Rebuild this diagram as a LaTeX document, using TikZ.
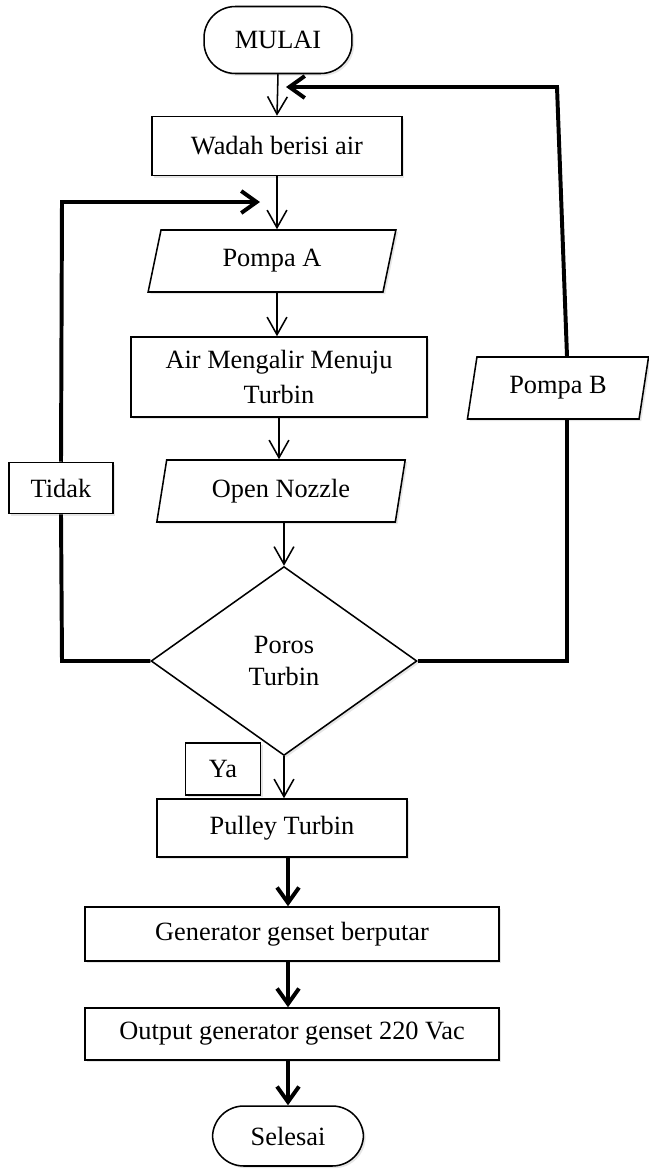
\documentclass[tikz,border=0pt]{standalone}
\usepackage{fontspec}
\setmainfont{Liberation Serif}
\usetikzlibrary{shapes.geometric,arrows.meta,shadows}

\begin{document}
\begin{tikzpicture}[x=0.016cm,y=-0.016cm,
    font=\fontsize{12}{14.5}\selectfont,
    kotak/.style={draw,line width=0.7pt,fill=white,inner sep=0pt,align=center,
        drop shadow={opacity=0.2,shadow xshift=0.35mm,shadow yshift=-0.35mm}},
    terminal/.style={kotak,rounded corners=0.5cm},
    jajar/.style={kotak,trapezium,trapezium left angle=76,trapezium right angle=104,trapezium stretches=true},
    keputusan/.style={kotak,diamond},
    panah/.style={-{Straight Barb[length=8pt,width=9pt]},line width=0.7pt},
    panahtebal/.style={-{Straight Barb[length=7pt,width=10pt]},line width=1.8pt},
    garis/.style={line width=1.8pt}]
    \useasboundingbox (0,0) rectangle (648,1169);
    \node[terminal,minimum width=2.368cm,minimum height=1.072cm] (mulai) at (278,40) {MULAI};
    \node[kotak,minimum width=4cm,minimum height=0.944cm] (wadah) at (277,146) {Wadah berisi air};
    \node[jajar,minimum width=3.968cm,minimum height=0.992cm] (pompaA) at (272,261) {Pompa A};
    \node[kotak,minimum width=4.736cm,minimum height=1.28cm,font=\fontsize{12}{16}\selectfont] (air) at (279,377) {Air Mengalir Menuju\\Turbin};
    \node[jajar,minimum width=3.984cm,minimum height=0.992cm] (nozzle) at (281,491) {Open Nozzle};
    \node[keputusan,minimum width=4.256cm,minimum height=3.024cm] (poros) at (284,661) {Poros\\Turbin};
    \node[kotak,minimum width=1.664cm,minimum height=0.816cm] (tidak) at (61,488) {Tidak};
    \node[jajar,minimum width=2.912cm,minimum height=0.992cm] (pompaB) at (558,388) {Pompa B};
    \node[kotak,minimum width=1.2cm,minimum height=0.832cm] (ya) at (223,769) {Ya};
    \node[kotak,minimum width=4cm,minimum height=0.928cm] (pulley) at (282,828) {Pulley Turbin};
    \node[kotak,minimum width=6.624cm,minimum height=0.864cm] (genset) at (292,934) {Generator genset berputar};
    \node[kotak,minimum width=6.624cm,minimum height=0.832cm] (output) at (292,1034) {Output generator genset 220 Vac};
    \node[terminal,minimum width=2.416cm,minimum height=0.96cm] (selesai) at (288,1136) {Selesai};
    \draw[panah] (mulai.south) -- (wadah.north);
    \draw[panah] (wadah.south) -- (wadah.south |- pompaA.north);
    \draw[panah] (wadah.south |- pompaA.south) -- (wadah.south |- air.north);
    \draw[panah] (air.south) -- (air.south |- nozzle.north);
    \draw[panah] (poros.north |- nozzle.south) -- (poros.north);
    \draw[panah] (poros.south) -- (poros.south |- pulley.north);
    \draw[panahtebal] (selesai.north |- pulley.south) -- (selesai.north |- genset.north);
    \draw[panahtebal] (selesai.north |- genset.south) -- (selesai.north |- output.north);
    \draw[panahtebal] (selesai.north |- output.south) -- (selesai.north);
    \coordinate (kiribawah) at (62,661);
    \coordinate (kiriatas) at (62,202);
    \coordinate (masukA) at (260,202);
    \draw[garis] (poros.west) -- (kiribawah) -- (tidak.south);
    \draw[panahtebal] (tidak.north) -- (kiriatas) -- (masukA);
    \coordinate (kananbawah) at (567,661);
    \coordinate (kananatas) at (557,87);
    \coordinate (masukB) at (286,87);
    \draw[garis] (poros.east) -- (kananbawah) -- (kananbawah |- pompaB.south);
    \draw[panahtebal] (kananbawah |- pompaB.north) -- (kananatas) -- (masukB);
\end{tikzpicture}
\end{document}
